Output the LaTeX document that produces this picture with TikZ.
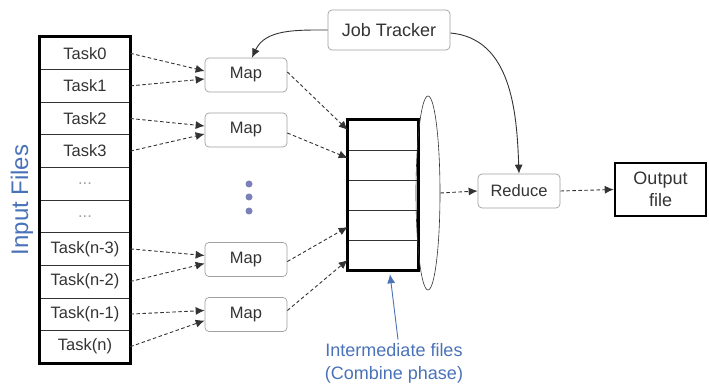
\documentclass[tikz,border=0pt]{standalone}
\usepackage{fontspec}
\setmainfont{Liberation Sans}
\usetikzlibrary{arrows.meta,positioning,shapes.geometric}

\definecolor{blu}{HTML}{4A72B8}
\definecolor{puntini}{HTML}{7B80B8}
\definecolor{bordo}{HTML}{A0A0A0}
\definecolor{testo}{HTML}{333333}

\tikzset{
	cella/.style={draw=testo,line width=0.6pt,minimum width=90pt,minimum height=32.6pt,inner sep=0pt,font=\fontsize{16.5}{18}\selectfont,text=testo},
	casella/.style={draw=testo,line width=0.6pt,minimum width=70pt,minimum height=30pt,inner sep=0pt},
	proc/.style={draw=bordo,rounded corners=4pt,line width=0.7pt,minimum width=82pt,minimum height=34pt,inner sep=0pt,font=\fontsize{16.5}{18}\selectfont,text=testo},
	freccia/.style={-{Latex[length=9pt,width=8pt]},testo,line width=0.9pt},
	tratt/.style={freccia,dash pattern=on 3.5pt off 2.5pt},
}

\begin{document}
\begin{tikzpicture}[x=1pt,y=-1pt]
	\useasboundingbox (0,0) rectangle (709,387);

	% colonna dei file di input
	\foreach \lab [count=\i from 0] in {Task0,Task1,Task2,Task3,\textcolor{bordo}{...},\textcolor{bordo}{...},Task(n-3),Task(n-2),Task(n-1),Task(n)}
		\node [cella] (t\i) at (85,{53.3+32.6*\i}) {\lab};
	\draw [line width=2.6pt,black] (t0.north west) rectangle (t9.south east);
	\node [rotate=90,text=blu,font=\fontsize{24}{26}\selectfont] (inp) at (22,200) {Input Files};

	\node [proc] (map1) at (246,75) {Map};
	\node [proc] (map2) at (246,130) {Map};
	\node [proc] (map3) at (246,259.5) {Map};
	\node [proc] (map4) at (246,314.5) {Map};
	\foreach \y in {184,197,211}
		\fill [puntini] (249,\y) circle (3.5pt);

	\node [proc,minimum width=122pt,minimum height=40pt,font=\fontsize{18}{20}\selectfont] (jt) at (389,30) {Job Tracker};

	% file intermedi
	\foreach \i in {0,...,4}
		\node [casella] (c\i) at (383,{135+30*\i}) {};
	\draw [line width=2.6pt,black] (c0.north west) rectangle (c4.south east);
	\node [ellipse,draw=testo,line width=0.6pt,minimum width=24pt,minimum height=194pt,inner sep=0pt] (comb) at (428,193) {};
	\node [text=blu,align=center,font=\fontsize{18}{23}\selectfont] (lab) at (394,363) {Intermediate files\\(Combine phase)};

	\node [proc] (red) at (519,191) {Reduce};
	\node [draw=black,line width=2.6pt,minimum width=91pt,minimum height=53pt,inner sep=0pt,align=center,text=testo,font=\fontsize{18}{22}\selectfont] (out) at (660.5,189.5) {Output\\file};

	% frecce
	\draw [tratt] (t0.east) -- ([yshift=4pt]map1.west);
	\draw [tratt] (t1.east) -- ([yshift=-4pt]map1.west);
	\draw [tratt] (t2.east) -- ([yshift=4pt]map2.west);
	\draw [tratt] (t3.east) -- ([yshift=-4pt]map2.west);
	\draw [tratt] (t6.east) -- ([yshift=4pt]map3.west);
	\draw [tratt] (t7.east) -- ([yshift=-4pt]map3.west);
	\draw [tratt] (t8.east) -- ([yshift=4pt]map4.west);
	\draw [tratt] (t9.east) -- ([yshift=-6pt]map4.west);

	\draw [tratt] ([yshift=3pt]map1.east) -- ([yshift=5pt]c0.west);
	\draw [tratt] ([yshift=-3pt]map2.east) -- ([yshift=7pt]c1.west);
	\draw [tratt] ([yshift=-2pt]map3.east) -- ([yshift=-2pt]c3.west);
	\draw [tratt] ([yshift=4pt]map4.east) -- ([yshift=-5pt]c4.west);

	\draw [freccia] (jt.west) to[out=180,in=65] ([xshift=6pt]map1.north);
	\draw [freccia] ([yshift=-3pt]jt.east) to[out=-5,in=92] (red.north);

	\draw [tratt] (comb.east) -- (red.west);
	\draw [tratt] (red.east) -- (out.west);
	\draw [-{Latex[length=9pt,width=8pt]},blu,line width=0.9pt] ([xshift=4pt]lab.north) -- ([xshift=7pt,yshift=-4pt]c4.south);
\end{tikzpicture}
\end{document}
